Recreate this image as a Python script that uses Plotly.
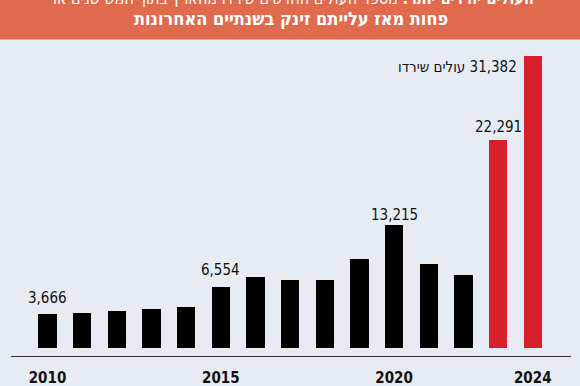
import plotly.graph_objects as go

years = list(range(2010, 2025))
values = [3666, 3700, 3940, 4130, 4340, 6554, 7570, 7310, 7250, 9540, 13215, 9000, 7820, 22291, 31382]
bar_colors = ["#000000"] * 13 + ["#D7202B"] * 2
tick_years = [2010, 2015, 2020, 2024]
labeled_years = [2010, 2015, 2020, 2023]
label_shift = [16, 17, 10, 13]
top_label_suffix = "עולים שירדו"
title_line1_bold = "העולים יורדים יותר:"
title_line1_rest = "מספר העולים החדשים שירדו מהארץ בתוך חמש שנים או"
title_line2 = "פחות מאז עלייתם זינק בשנתיים האחרונות"

BG = "#E7ECF4"
HEAD = "#E06A4E"
NUMFONT = "Liberation Sans Narrow, DejaVu Sans Condensed, sans-serif"
HEBFONT = "DejaVu Sans Condensed, sans-serif"

fig = go.Figure(go.Bar(x=years, y=values, marker_color=bar_colors,
                       marker_line_width=0, width=0.53, hoverinfo="skip"))

H = 356.0
annotations = []
for yr, sh in zip(labeled_years, label_shift):
    v = values[years.index(yr)]
    annotations.append(dict(x=yr, y=v, text=f"{v:,}", showarrow=False,
                            yanchor="middle", yshift=sh,
                            font=dict(family=NUMFONT, size=15, color="#111")))
v = values[-1]
annotations.append(dict(x=years[-1], y=v, text=f"{top_label_suffix}\u200e {v:,}",
                        showarrow=False, xanchor="right", yanchor="middle",
                        xshift=-14, yshift=-11,
                        font=dict(family=NUMFONT, size=15, color="#111")))
annotations.append(dict(xref="paper", yref="paper", x=0.505, y=1 + 1 / H,
                        text="<b>" + title_line1_bold + "</b> " + title_line1_rest,
                        showarrow=False, yanchor="middle",
                        font=dict(family=HEBFONT, size=16, color="white")))
annotations.append(dict(xref="paper", yref="paper", x=0.5, y=1 - 19 / H,
                        text="<b>" + title_line2 + "</b>", showarrow=False, yanchor="middle",
                        font=dict(family=HEBFONT, size=18, color="white")))

fig.update_layout(
    width=580, height=386,
    margin=dict(l=11, r=9, t=0, b=30),
    paper_bgcolor=BG, plot_bgcolor=BG,
    showlegend=False,
    bargap=0,
    xaxis=dict(range=[2008.947, 2025.104], tickvals=tick_years,
               ticktext=[str(t) for t in tick_years],
               showgrid=False, zeroline=False, showline=True,
               linecolor="#333", linewidth=1.2, ticks="",
               ticklabelstandoff=8,
               tickfont=dict(family=NUMFONT, size=15, color="#111"),
               fixedrange=True),
    yaxis=dict(range=[-892, 37378], visible=False, showgrid=False,
               zeroline=False, fixedrange=True),
    shapes=[dict(type="rect", xref="paper", yref="paper", x0=-0.05, x1=1.05,
                 y0=1 - 39.5 / H, y1=1.1, fillcolor=HEAD, line_width=0,
                 layer="above")],
    annotations=annotations,
)
fig.update_xaxes(tickfont_weight="bold")

fig.write_html("out.html", config={"displayModeBar": False},
               post_script="document.body.style.margin='0';document.body.style.overflow='hidden';")
